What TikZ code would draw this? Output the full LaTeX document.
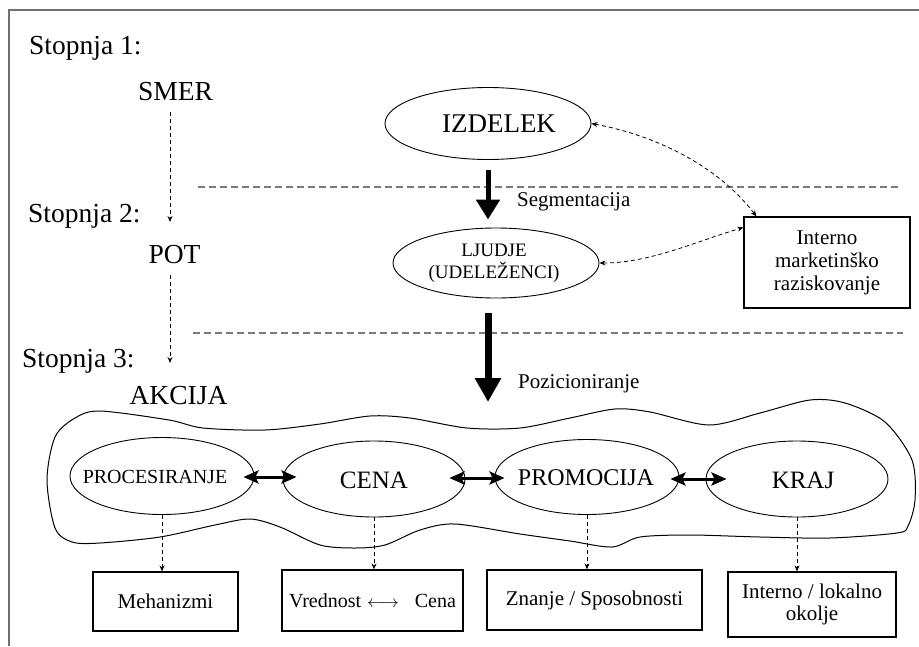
\documentclass[tikz,border=0pt]{standalone}
\usepackage{fontspec}
\setmainfont{Liberation Serif}
\usetikzlibrary{arrows.meta,shapes.geometric,calc}
\newcommand{\fsz}[2]{\fontsize{#1}{#2}\selectfont}
\definecolor{framegray}{HTML}{707070}
\definecolor{sepgray}{HTML}{7A7A7A}
\begin{document}
\begin{tikzpicture}[x=1pt,y=-1pt,
  txt/.style={inner sep=0pt, font=\fsz{27.5}{30}},
  lbl/.style={inner sep=0pt},
  ell/.style={ellipse, draw, line width=0.9pt, inner sep=0pt},
  rbox/.style={draw, line width=1.2pt, inner sep=0pt, align=center},
  dasharr/.style={line width=0.8pt, dash pattern=on 4pt off 3pt, -{Stealth[length=6pt,width=5pt]}},
  dashdbl/.style={line width=0.8pt, dash pattern=on 4pt off 3pt, {Stealth[length=6pt,width=5pt]}-{Stealth[length=6pt,width=5pt]}},
  bigarrA/.style={line width=5pt, -{Triangle[length=20pt,width=23pt]}},
  bigarrB/.style={line width=7pt, -{Triangle[length=24pt,width=25pt]}},
  dbl/.style={line width=3pt, {Stealth[length=15pt,width=13pt,inset=3pt]}-{Stealth[length=15pt,width=13pt,inset=3pt]}},
  sep/.style={draw=sepgray, line width=1.3pt, dash pattern=on 7pt off 4pt},
  blob/.style={line width=1pt}
]
\useasboundingbox (0,0) rectangle (919,646);
% frame
\draw[framegray, line width=2pt] (9,646) -- (9,10) -- (919,10);

% stage labels
\node[txt, anchor=base west] (st1) at (29,54) {Stopnja 1:};
\node[txt, anchor=base west] (st2) at (28,222) {Stopnja 2:};
\node[txt, anchor=base west] (st3) at (22,367) {Stopnja 3:};
\node[txt, anchor=base] (smer) at (175.5,100) {SMER};
\node[txt, anchor=base] (pot) at (174.5,263) {POT};
\node[txt, anchor=base] (akc) at (178.5,404) {AKCIJA};
\coordinate (axis) at (170,0);
\draw[dasharr, shorten <=12pt] (smer.south -| axis) -- (axis |- st2.base);
\draw[dasharr, shorten <=12pt] (pot.south -| axis) -- ($(axis |- st3.base)+(0,-4)$);

% separators
\draw[sep] (198,187) -- (900,187);
\draw[sep] (193,333) -- (903,333);

% top ellipses
\node[ell, minimum width=206pt, minimum height=72pt] (izd) at (488,123.5) {};
\node[lbl, font=\fsz{27}{27}] (izdT) at (499,123.5) {IZDELEK};
\node[ell, minimum width=206pt, minimum height=70pt] (ljud) at (496,263) {};
\node[lbl, align=center, font=\fsz{19}{22}] (ljudT) at (494,263) {LJUDJE\\(UDELEŽENCI)};
\node[rbox, minimum width=166pt, minimum height=91pt, font=\fsz{21}{23}] (intr) at (827,262.5) {Interno\\marketinško\\raziskovanje};

\draw[bigarrA, shorten <=10pt, shorten >=8pt] (izd.south -| 488,0) -- (ljud.north -| 488,0);
\node[lbl, anchor=base west, font=\fsz{21}{21}] (segm) at (517,206) {Segmentacija};
\coordinate (posend) at (488,402);
\draw[bigarrB, shorten <=15pt] (ljud.south -| posend) -- (posend);
\node[lbl, anchor=base west, font=\fsz{21}{21}] (pozi) at (518,388) {Pozicioniranje};

% dashed research links
\draw[dashdbl] (izd.east) .. controls ($(izd.east)+(65,12)$) and ($(intr.north west)+(-25,-50)$) .. ($(intr.north west)+(13,0)$);
\draw[dashdbl] (ljud.east) .. controls ($(ljud.east)+(50,0)$) and ($(intr.north west)+(-50,26)$) .. ($(intr.north west)+(0,11)$);

% blob
\draw[blob] plot[smooth cycle, tension=0.5] coordinates {
 (100,411) (169,420) (203,428) (265,430) (320,424) (370,416) (410,418) (467,428) (520,428)
 (570,418) (615,409) (650,412) (709,425) (760,413) (810,400) (845,403) (885,422) (912,460)
 (915,500) (908,526) (897,533) (830,538) (760,537) (690,535) (640,537) (612,547) (570,541)
 (520,534) (455,524) (420,530) (385,545) (355,548) (320,545) (280,527) (250,519) (215,525)
 (160,537) (100,543) (72,542) (55,528) (47,480) (55,437) (75,418)};

% action ellipses
\node[ell, minimum width=184pt, minimum height=77pt] (proc) at (162,476) {};
\node[lbl, font=\fsz{20}{20}] (procT) at (155,477) {PROCESIRANJE};
\node[ell, minimum width=182pt, minimum height=76pt] (cena) at (374,479) {};
\node[lbl, font=\fsz{25}{25}] (cenaT) at (374,480) {CENA};
\node[ell, minimum width=184pt, minimum height=75pt] (prom) at (587,477) {};
\node[lbl, font=\fsz{24}{24}] (promT) at (586,478) {PROMOCIJA};
\node[ell, minimum width=182pt, minimum height=76pt] (kraj) at (797,479) {};
\node[lbl, font=\fsz{25}{25}] (krajT) at (803,480) {KRAJ};

\draw[dbl] ($(proc.east)+(-11,1)$) -- ($(proc.east -| cena.west)+(14,1)$);
\draw[dbl] ($(cena.east)+(-16,-1)$) -- ($(cena.east -| prom.west)+(10,-1)$);
\draw[dbl] ($(prom.east)+(-9,2)$) -- ($(prom.east -| kraj.west)+(21,2)$);

% bottom boxes
\node[rbox, minimum width=145pt, minimum height=59pt, font=\fsz{21}{21}] (mech) at (165.5,601.5) {\raisebox{-4pt}{Mehanizmi}};
\node[rbox, minimum width=181pt, minimum height=61pt, font=\fsz{20}{20}] (vred) at (372.5,600.5) {Vrednost\hspace{6pt}{\fsz{16}{16}$\longleftrightarrow$}\hspace{16pt}Cena};
\node[rbox, minimum width=215pt, minimum height=60pt, font=\fsz{21}{21}] (znan) at (594.5,600) {Znanje / Sposobnosti};
\node[rbox, minimum width=168pt, minimum height=65pt, font=\fsz{21}{22}] (intl) at (812,604.5) {Interno / lokalno\\okolje};

\draw[dasharr] (proc.south) -- (proc.south |- mech.north);
\draw[dasharr] (cena.south) -- (cena.south |- vred.north);
\draw[dasharr] (prom.south) -- (prom.south |- znan.north);
\draw[dasharr] (kraj.south) -- (kraj.south |- intl.north);
\end{tikzpicture}
\end{document}
